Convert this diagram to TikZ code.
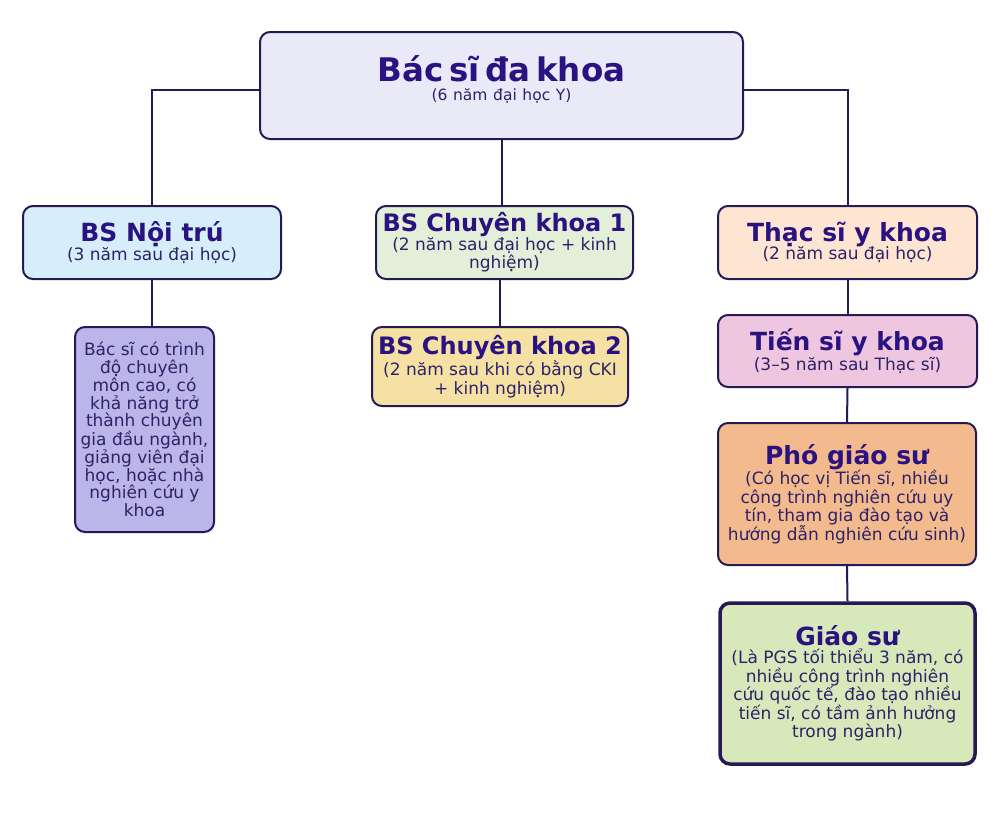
\documentclass[tikz,border=0pt]{standalone}
\usepackage{fontspec}
\setmainfont{DejaVu Sans}
\definecolor{edge}{HTML}{261A55}
\definecolor{ink}{HTML}{2A1380}
\definecolor{subink}{HTML}{2D2268}
\definecolor{topfill}{HTML}{E9E9F8}
\definecolor{bluefill}{HTML}{D5EEFA}
\definecolor{lilacfill}{HTML}{BCB5E9}
\definecolor{greenfill}{HTML}{E3EFD9}
\definecolor{sandfill}{HTML}{F5E1A4}
\definecolor{peachfill}{HTML}{FDE5D2}
\definecolor{pinkfill}{HTML}{EFC6DF}
\definecolor{orangefill}{HTML}{F3BA8E}
\definecolor{limefill}{HTML}{D7E9BA}
\newcommand\boxhead[2][25]{{\fontsize{#1}{#1}\selectfont\bfseries\color{ink}#2}}
\tikzset{
  card/.style={draw=edge, line width=2pt, rounded corners=10pt, align=center,
    inner xsep=4pt, inner ysep=0pt, text=subink, font=\fontsize{17}{18.5}\selectfont},
}
\begin{document}
\begin{tikzpicture}[x=1pt, y=-1pt]
  \path[use as bounding box, fill=white] (0,0) rectangle (1000,812);
  \node[card, fill=topfill, text width=475pt, minimum height=107pt] (bacsi) at (501.5,85.5)
    {\boxhead[32.5]{Bác sĩ đa khoa}\\{\fontsize{15.5}{18.5}\selectfont (6 năm đại học Y)}\par\vspace{12pt}};
  \node[card, fill=bluefill, minimum width=258pt, minimum height=73pt] (noitru) at (152,242.5)
    {\boxhead{BS Nội trú}\\(3 năm sau đại học)};
  \node[card, fill=lilacfill, minimum width=139pt, minimum height=205pt,
    font=\fontsize{17}{17.7}\selectfont] (mota) at (144.5,429.5)
    {Bác sĩ có trình\\độ chuyên\\môn cao, có\\khả năng trở\\thành chuyên\\gia đầu ngành,\\giảng viên đại\\học, hoặc nhà\\nghiên cứu y\\khoa};
  \node[card, fill=greenfill, minimum width=257pt, minimum height=73pt] (ck1) at (504.5,242.5)
    {\boxhead[24]{BS Chuyên khoa 1}\\(2 năm sau đại học + kinh\\nghiệm)};
  \node[card, fill=sandfill, minimum width=256pt, minimum height=79pt] (ck2) at (500,366.5)
    {\boxhead[24]{BS Chuyên khoa 2}\\(2 năm sau khi có bằng CKI\\+ kinh nghiệm)};
  \node[card, fill=peachfill, minimum width=259pt, minimum height=73pt] (thacsi) at (847.5,242.5)
    {\boxhead{Thạc sĩ y khoa}\\(2 năm sau đại học)};
  \node[card, fill=pinkfill, minimum width=259pt, minimum height=72pt] (tiensi) at (847.5,351)
    {\boxhead{Tiến sĩ y khoa}\\(3–5 năm sau Thạc sĩ)};
  \node[card, fill=orangefill, minimum width=258pt, minimum height=142pt] (pgs) at (847,494)
    {\boxhead{Phó giáo sư}\\(Có học vị Tiến sĩ, nhiều\\công trình nghiên cứu uy\\tín, tham gia đào tạo và\\hướng dẫn nghiên cứu sinh)};
  \node[card, fill=limefill, line width=3.5pt, minimum width=255pt, minimum height=161pt] (gs) at (847.5,683.5)
    {\boxhead{Giáo sư}\\(Là PGS tối thiểu 3 năm, có\\nhiều công trình nghiên\\cứu quốc tế, đào tạo nhiều\\tiến sĩ, có tầm ảnh hưởng\\trong ngành)};
  % connectors
  \begin{scope}[line width=2pt, edge]
    \draw ([yshift=-4.5pt]bacsi.west) -| (noitru.north);
    \draw (bacsi.south) -- (bacsi.south |- ck1.north);
    \draw ([yshift=-4.5pt]bacsi.east) -| (thacsi.north);
    \draw (noitru.south) -- (noitru.south |- mota.north);
    \draw (ck2.north |- ck1.south) -- (ck2.north);
    \draw (thacsi.south) -- (tiensi.north);
    \draw (tiensi.south) -- (pgs.north);
    \draw (pgs.south) -- (gs.north);
  \end{scope}
\end{tikzpicture}
\end{document}
